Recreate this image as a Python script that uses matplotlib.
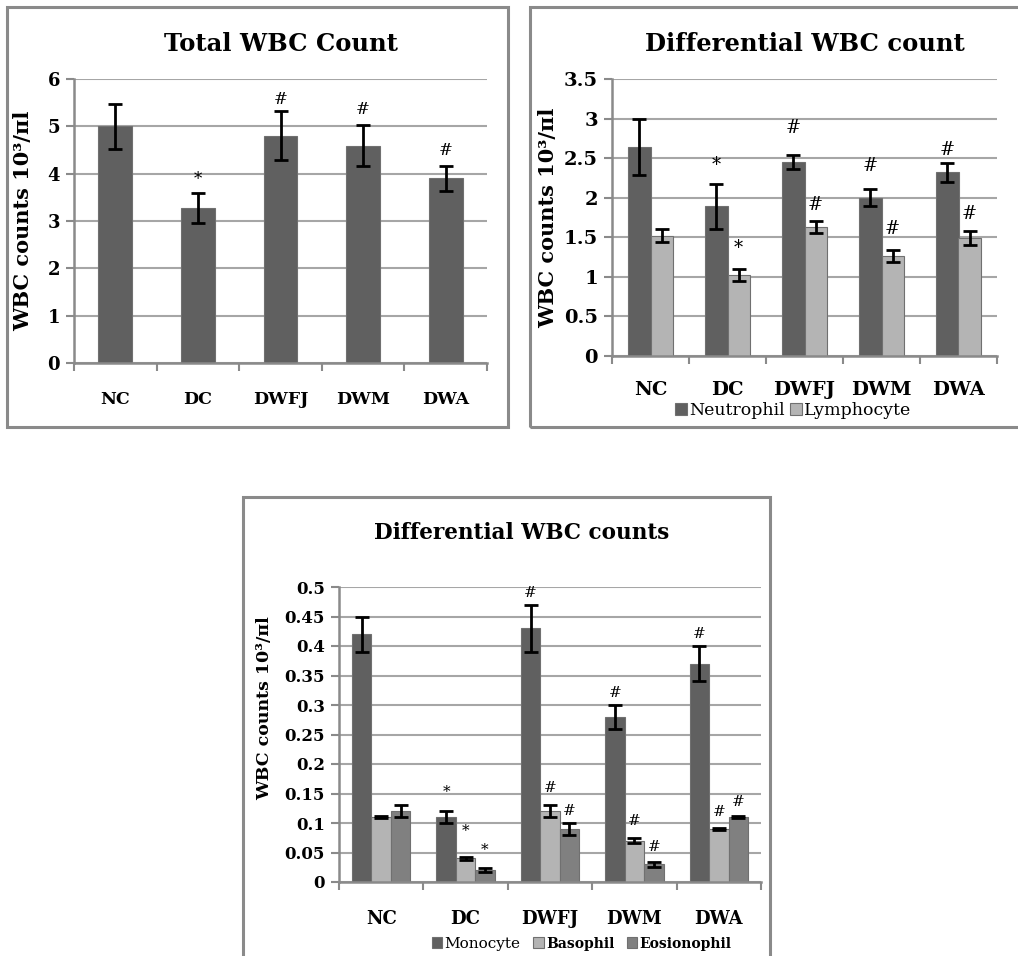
#!/usr/bin/env python3
"""Total and differential WBC counts across the five groups (three bar panels)."""

import numpy as np
import matplotlib
matplotlib.use("Agg")
import matplotlib.pyplot as plt
from matplotlib.patches import Rectangle

# ---- data ----
groups = ["NC", "DC", "DWFJ", "DWM", "DWA"]

total_wbc = [5.0, 3.27, 4.8, 4.59, 3.9]
total_err = [0.48, 0.32, 0.52, 0.43, 0.26]
total_sig = ["", "*", "#", "#", "#"]
total_sig_y = [None, 3.87, 5.56, 5.35, 4.49]

neutrophil = [2.64, 1.89, 2.45, 2.00, 2.32]
neutrophil_err = [0.35, 0.28, 0.09, 0.11, 0.12]
neutrophil_sig = ["", "*", "#", "#", "#"]
neutrophil_sig_y = [None, 2.41, 2.88, 2.40, 2.60]

lymphocyte = [1.52, 1.02, 1.63, 1.26, 1.49]
lymphocyte_err = [0.08, 0.075, 0.08, 0.075, 0.09]
lymphocyte_sig = ["", "*", "#", "#", "#"]
lymphocyte_sig_y = [None, 1.36, 1.91, 1.61, 1.80]

monocyte = [0.42, 0.11, 0.43, 0.28, 0.37]
monocyte_err = [0.03, 0.01, 0.04, 0.02, 0.03]
monocyte_sig = ["", "*", "#", "#", "#"]
monocyte_sig_y = [None, 0.153, 0.489, 0.32, 0.42]

basophil = [0.11, 0.04, 0.12, 0.07, 0.09]
basophil_err = [0.002, 0.003, 0.01, 0.004, 0.002]
basophil_sig = ["", "*", "#", "#", "#"]
basophil_sig_y = [None, 0.086, 0.159, 0.103, 0.118]

eosinophil = [0.12, 0.02, 0.09, 0.03, 0.11]
eosinophil_err = [0.01, 0.003, 0.01, 0.004, 0.002]
eosinophil_sig = ["", "*", "#", "#", "#"]
eosinophil_sig_y = [None, 0.054, 0.121, 0.059, 0.136]

YLABEL = "WBC counts 10\u00b3/\u03c0l"

DARK = "#606060"
LIGHT = "#b4b4b4"
MID = "#808080"
AXIS_GREY = "#8a8a8a"
GRID_GREY = "#a6a6a6"

plt.rcParams["font.family"] = ["DejaVu Serif"]

W, H = 1018, 956
fig = plt.figure(figsize=(W / 100, H / 100), dpi=100)


def px_axes(left, top, right, bottom):
    return fig.add_axes([left / W, 1 - bottom / H, (right - left) / W, (bottom - top) / H])


def panel_box(left, top, right, bottom):
    fig.patches.append(Rectangle((left / W, 1 - bottom / H), (right - left) / W,
                                 (bottom - top) / H, transform=fig.transFigure,
                                 fill=False, edgecolor=AXIS_GREY, linewidth=2.2))


def style_axes(ax, ymax, ystep, ytick_size, xtick_size, xpad):
    n = len(groups)
    ticks = np.arange(0, ymax + ystep / 2, ystep)
    ax.set_xlim(-0.5, n - 0.5)
    ax.set_ylim(0, ymax)
    ax.set_yticks(ticks)
    ax.set_yticklabels([f"{v:g}" for v in ticks], fontsize=ytick_size, fontweight="bold")
    ax.set_xticks(range(n))
    ax.set_xticklabels(groups, fontsize=xtick_size, fontweight="bold")
    ax.set_xticks(np.arange(-0.5, n, 1.0), minor=True)
    ax.tick_params(axis="x", which="major", length=0, pad=xpad)
    ax.tick_params(axis="x", which="minor", length=6, width=1.5, color=AXIS_GREY, direction="out")
    ax.tick_params(axis="y", length=6, width=1.5, color=AXIS_GREY, direction="out", pad=4)
    for side in ("top", "right"):
        ax.spines[side].set_visible(False)
    for side in ("left", "bottom"):
        ax.spines[side].set_color(AXIS_GREY)
        ax.spines[side].set_linewidth(1.8)
    ax.yaxis.grid(True, color=GRID_GREY, linewidth=1.5)
    ax.set_axisbelow(True)


def bars_with_err(ax, offset, width, vals, errs, color, sig, sig_y, sig_size):
    x = np.arange(len(groups)) + offset
    bars = ax.bar(x, vals, width, color=color, edgecolor="#707070", linewidth=0.8, zorder=2)
    ax.errorbar(x, vals, yerr=errs, fmt="none", ecolor="black", elinewidth=2,
                capsize=5, capthick=2, zorder=3)
    for xi, s, sy in zip(x, sig, sig_y):
        if s:
            ax.text(xi, sy, s, ha="center", va="center", fontsize=sig_size, zorder=4)
    return bars


# ---- panel 1: total WBC ----
panel_box(7, 7, 508, 427)
ax1 = px_axes(74, 79, 487, 363)
style_axes(ax1, 6, 1, 13, 12.5, 20)
bars_with_err(ax1, 0.0, 0.41, total_wbc, total_err, DARK, total_sig, total_sig_y, 12)
ax1.set_ylabel(YLABEL, fontsize=15, fontweight="bold")
ax1.yaxis.set_label_coords(-0.1, 0.5)
ax1.set_title("Total WBC Count", fontsize=17.5, fontweight="bold", pad=20)

# ---- panel 2: neutrophil / lymphocyte ----
panel_box(530, 7, 1030, 427)
ax2 = px_axes(612, 79, 997, 356)
style_axes(ax2, 3.5, 0.5, 14, 14, 18)
w2 = 0.29
b_n = bars_with_err(ax2, -w2 / 2, w2, neutrophil, neutrophil_err, DARK,
                    neutrophil_sig, neutrophil_sig_y, 13)
b_l = bars_with_err(ax2, w2 / 2, w2, lymphocyte, lymphocyte_err, LIGHT,
                    lymphocyte_sig, lymphocyte_sig_y, 13)
ax2.set_ylabel(YLABEL, fontsize=15, fontweight="bold")
ax2.yaxis.set_label_coords(-0.14, 0.5)
ax2.set_title("Differential WBC count", fontsize=17.5, fontweight="bold", pad=20)
leg2 = ax2.legend([b_n, b_l], ["Neutrophil", "Lymphocyte"], loc="upper center",
                  bbox_to_anchor=(0.47, -0.14), ncol=2, frameon=False, fontsize=12.5,
                  handlelength=0.7, handleheight=0.7, handletextpad=0.1, columnspacing=0.3,
                  borderaxespad=0)

# ---- panel 3: monocyte / basophil / eosinophil ----
panel_box(243, 497, 770, 970)
ax3 = px_axes(339, 587, 761, 882)
style_axes(ax3, 0.5, 0.05, 12, 13, 20)
w3 = 0.23
b_m = bars_with_err(ax3, -w3, w3, monocyte, monocyte_err, DARK, monocyte_sig, monocyte_sig_y, 11)
b_b = bars_with_err(ax3, 0.0, w3, basophil, basophil_err, LIGHT, basophil_sig, basophil_sig_y, 11)
b_e = bars_with_err(ax3, w3, w3, eosinophil, eosinophil_err, MID, eosinophil_sig, eosinophil_sig_y, 11)
ax3.set_ylabel(YLABEL, fontsize=12.5, fontweight="bold")
ax3.yaxis.set_label_coords(-0.156, 0.59)
fig.text(522 / W, 1 - 533 / H, "Differential WBC counts", fontsize=15.5, fontweight="bold",
         ha="center", va="center")
leg3 = ax3.legend([b_m, b_b, b_e], ["Monocyte", "Basophil", "Eosionophil"], loc="upper center",
                  bbox_to_anchor=(0.575, -0.165), ncol=3, frameon=False, fontsize=11,
                  handlelength=0.7, handleheight=0.7, handletextpad=0.15, columnspacing=0.8,
                  borderaxespad=0)
for t in leg3.get_texts()[1:]:
    t.set_fontweight("bold")
    t.set_fontsize(10)

fig.savefig("out.png", dpi=100, facecolor="white")
